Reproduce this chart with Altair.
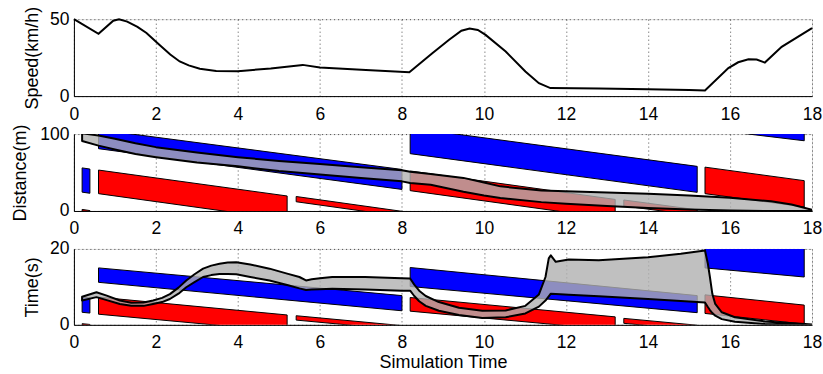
import altair as alt
import pandas as pd

# ---------------- data ----------------
speed_t = [0, 0.6, 0.96, 1.1, 1.3, 1.55, 1.77, 2.09, 2.35, 2.58, 2.8, 3.07, 3.47, 4.0, 4.8, 5.58,
           6.0, 7.12, 8.18, 8.74, 9.15, 9.45, 9.65, 9.85, 10.04, 10.53, 11.01, 11.34, 11.62,
           12.8, 14.0, 15.0, 15.39, 15.96, 16.2, 16.45, 16.65, 16.85, 17.26, 18.0]
speed_v = [50, 40.5, 49, 50, 48.4, 45, 41, 33.3, 27, 22.5, 20, 17.8, 16.4, 16.2, 18, 20.3,
           18.6, 17, 15.5, 27.9, 36.6, 42.5, 44, 43, 39.8, 29, 16, 8.4, 5.2,
           5.0, 4.5, 4.0, 3.6, 18.2, 22, 24, 23.8, 21.8, 32, 44.2]

# polygons: kind, x_start, x_end, top_start, top_end, bottom_start, bottom_end
dist_kind = ["blue", "red", "red", "red", "blue", "blue", "red", "red", "red", "blue"]
dist_x1 = [0.2, 0.2, 0.6, 5.42, 0.6, 8.2, 8.2, 13.41, 15.39, 15.39]
dist_x2 = [0.39, 0.39, 5.2, 8.1, 8.0, 15.2, 13.2, 15.2, 17.81, 17.81]
dist_t1 = [56, 2, 53.2, 18.8, 105.7, 108, 52, 14.3, 57, 140]
dist_t2 = [54.5, 0.5, 19.5, -1.2, 54, 58, 15, 1.5, 39.4, 120]
dist_b1 = [24.5, 0, 22.5, 12, 81, 74.5, 26.4, 6.5, 22.5, 106.8]
dist_b2 = [23, -1, -11.5, -8, 28, 24.2, -10.5, -6, 5.2, 91.3]

time_kind = ["blue", "red", "red", "red", "blue", "blue", "red", "red", "blue", "red"]
time_x1 = [0.2, 0.2, 0.6, 5.42, 0.6, 8.2, 8.2, 13.41, 15.39, 15.39]
time_x2 = [0.39, 0.39, 5.2, 8.1, 8.0, 15.2, 13.2, 15.2, 17.81, 17.81]
time_t1 = [7.3, 0.3, 7.3, 2.4, 15.0, 15.1, 7.2, 1.7, 23, 7.9]
time_t2 = [7.1, 0.1, 2.6, -0.3, 7.7, 7.7, 2.1, -0.1, 20.6, 5.2]
time_b1 = [3.3, 0, 2.8, 1.25, 11.2, 10.1, 3.6, 0.4, 15.0, 3.0]
time_b2 = [3.1, -0.2, -1.8, -1.45, 3.7, 3.2, -1.4, -1.4, 12.6, 0.2]

# grey bands
dband_x = [0.2, 0.6, 1.0, 1.5, 2.0, 3.0, 4.0, 5.0, 6.0, 7.0, 8.0, 8.2, 8.7, 9.5, 10.0, 10.4,
           11.4, 12.0, 13.0, 14.0, 15.0, 16.0, 17.0, 17.5, 18.0]
dband_top = [101, 98, 94, 88, 83, 76, 70, 65, 61, 57, 53, 51, 48, 43, 37, 32,
             26.5, 25.5, 24, 22.5, 20, 17.2, 12.5, 8.5, 1.5]
dband_bot = [91, 85, 80, 74, 70, 63, 58, 52, 47.5, 43, 38.5, 36.4, 34, 25, 20, 17,
             11.5, 9.5, 6.5, 4, 2, 0.5, 0, 0, 0]

tband_x = [0.2, 0.55, 0.8, 1.12, 1.4, 1.7, 1.93, 2.15, 2.34, 2.55, 2.74, 2.95, 3.15, 3.35, 3.55,
           3.75, 3.96, 4.3, 4.77, 5.2, 5.5, 5.66, 5.8, 6.0, 6.3, 7.1, 8.0, 8.2,
           8.3, 8.42, 8.58, 8.9, 9.39, 9.96, 10.53, 11.01, 11.34, 11.5, 11.58, 11.63,
           11.75, 12.07, 12.8, 14.0, 14.8, 15.39, 15.46, 15.51, 15.57, 15.64, 15.8,
           16.12, 16.85, 17.83, 18.0]
tband_top = [7.4, 8.6, 7.7, 6.4, 5.8, 5.9, 6.4, 7.1, 8.1, 9.8, 11.7, 13.4, 14.8, 15.6, 16.1,
             16.4, 16.5, 15.9, 14.8, 13.5, 12.6, 11.7, 12.0, 12.3, 12.6, 12.6, 12.3, 12.2,
             10.6, 9.0, 7.6, 6.0, 4.5, 3.7, 3.8, 5.0, 8.0, 12.6, 17.5, 18.3,
             16.6, 17.2, 17.0, 17.8, 18.7, 19.6, 16.1, 12.6, 8.1, 5.5, 3.3,
             2.0, 0.9, 0.2, 0.1]
tband_bot = [6.4, 7.3, 6.5, 5.5, 5.0, 5.0, 5.5, 6.0, 6.8, 8.2, 9.9, 11.3, 12.6, 13.1, 13.4,
             13.4, 13.3, 12.6, 11.7, 10.5, 9.6, 9.2, 9.3, 9.4, 9.5, 9.3, 9.0, 9.0,
             7.6, 6.2, 5.0, 3.7, 2.6, 1.8, 2.0, 3.0, 4.8, 6.4, 7.5, 8.2,
             8.1, 7.9, 7.5, 6.8, 6.3, 5.9, 4.7, 3.9, 3.1, 2.4, 1.5,
             0.8, 0.2, 0.0, 0.0]


def poly_df(kind, x1, x2, t1, t2, b1, b2):
    rows = []
    for i in range(len(kind)):
        rows.append({"id": i, "kind": kind[i], "x": x1[i], "top": t1[i], "bot": b1[i]})
        rows.append({"id": i, "kind": kind[i], "x": x2[i], "top": t2[i], "bot": b2[i]})
    return pd.DataFrame(rows)


speed_df = pd.DataFrame({"t": speed_t, "v": speed_v})
dist_df = poly_df(dist_kind, dist_x1, dist_x2, dist_t1, dist_t2, dist_b1, dist_b2)
time_df = poly_df(time_kind, time_x1, time_x2, time_t1, time_t2, time_b1, time_b2)
dband_df = pd.DataFrame({"x": dband_x, "top": dband_top, "bot": dband_bot})
tband_df = pd.DataFrame({"x": tband_x, "top": tband_top, "bot": tband_bot})

# ---------------- styling ----------------
FONT = "Liberation Sans"
W = 739
xscale = alt.Scale(domain=[0, 18], nice=False, zero=False)
xvals = list(range(0, 19, 2))


def xaxis(title=None):
    kw = dict(values=xvals, grid=True, gridDash=[1, 3], gridColor="#222", gridOpacity=0.8,
              ticks=False, labelFontSize=17.5, labelPadding=9, labelFont=FONT,
              labelColor="black", domainColor="black", format="d", labelFlush=False)
    if title:
        kw.update(title=title, titleFontSize=18, titleFont=FONT, titleFontWeight="normal",
                  titleColor="black", titlePadding=2)
    else:
        kw.update(title=None)
    return alt.Axis(**kw)


def yaxis(title, vals, tx=-41):
    return alt.Axis(values=vals, title=title, grid=True, gridDash=[1, 3], gridColor="#222",
                    gridOpacity=0.8, ticks=False, labelFontSize=17.5, labelPadding=5,
                    labelFont=FONT, labelColor="black", domainColor="black", format="d",
                    titleFontSize=18, titleFont=FONT, titleFontWeight="normal",
                    titleColor="black", titleX=tx, titleBaseline="middle")


fill_scale = alt.Scale(domain=["red", "blue"], range=["#ff0000", "#0000ff"])

# ---------------- panel 1 ----------------
p1 = alt.Chart(speed_df).mark_line(color="black", strokeWidth=2).encode(
    x=alt.X("t:Q", scale=xscale, axis=xaxis()),
    y=alt.Y("v:Q", scale=alt.Scale(domain=[0, 50], nice=False), axis=yaxis("Speed(km/h)", [0, 50])),
).properties(width=W, height=77)


def panel(poly, band, ydom, ytitle, yvals, h, tx, xtitle=None):
    ysc = alt.Scale(domain=ydom, nice=False)
    polys = alt.Chart(poly).mark_area(stroke="black", strokeWidth=1, clip=True,
                                      interpolate="linear").encode(
        x=alt.X("x:Q", scale=xscale, axis=xaxis(xtitle)),
        y=alt.Y("top:Q", scale=ysc, axis=yaxis(ytitle, yvals, tx)),
        y2="bot:Q",
        fill=alt.Fill("kind:N", scale=fill_scale, legend=None),
        detail="id:N",
    )
    grey = alt.Chart(band).mark_area(fill="#b0b0b0", fillOpacity=0.8, stroke="black",
                                     strokeWidth=2, strokeJoin="round", clip=True,
                                     interpolate="linear").encode(
        x=alt.X("x:Q", scale=xscale),
        y=alt.Y("top:Q", scale=ysc),
        y2="bot:Q",
    )
    return alt.layer(polys, grey).properties(width=W, height=h)


p2 = panel(dist_df, dband_df, [0, 100], "Distance(m)", [0, 50, 100], 77, -53)
p3 = panel(time_df, tband_df, [0, 20], "Time(s)", [0, 10, 20], 76, -41,
           xtitle="Simulation Time")

chart = alt.vconcat(p1, p2, p3, spacing=38, bounds="flush").properties(
    padding={"left": 11, "top": 5, "right": 0, "bottom": 0}
).configure_view(stroke=None).configure(background="white")

chart.save("out.html", embed_options={"renderer": "svg", "actions": False})
